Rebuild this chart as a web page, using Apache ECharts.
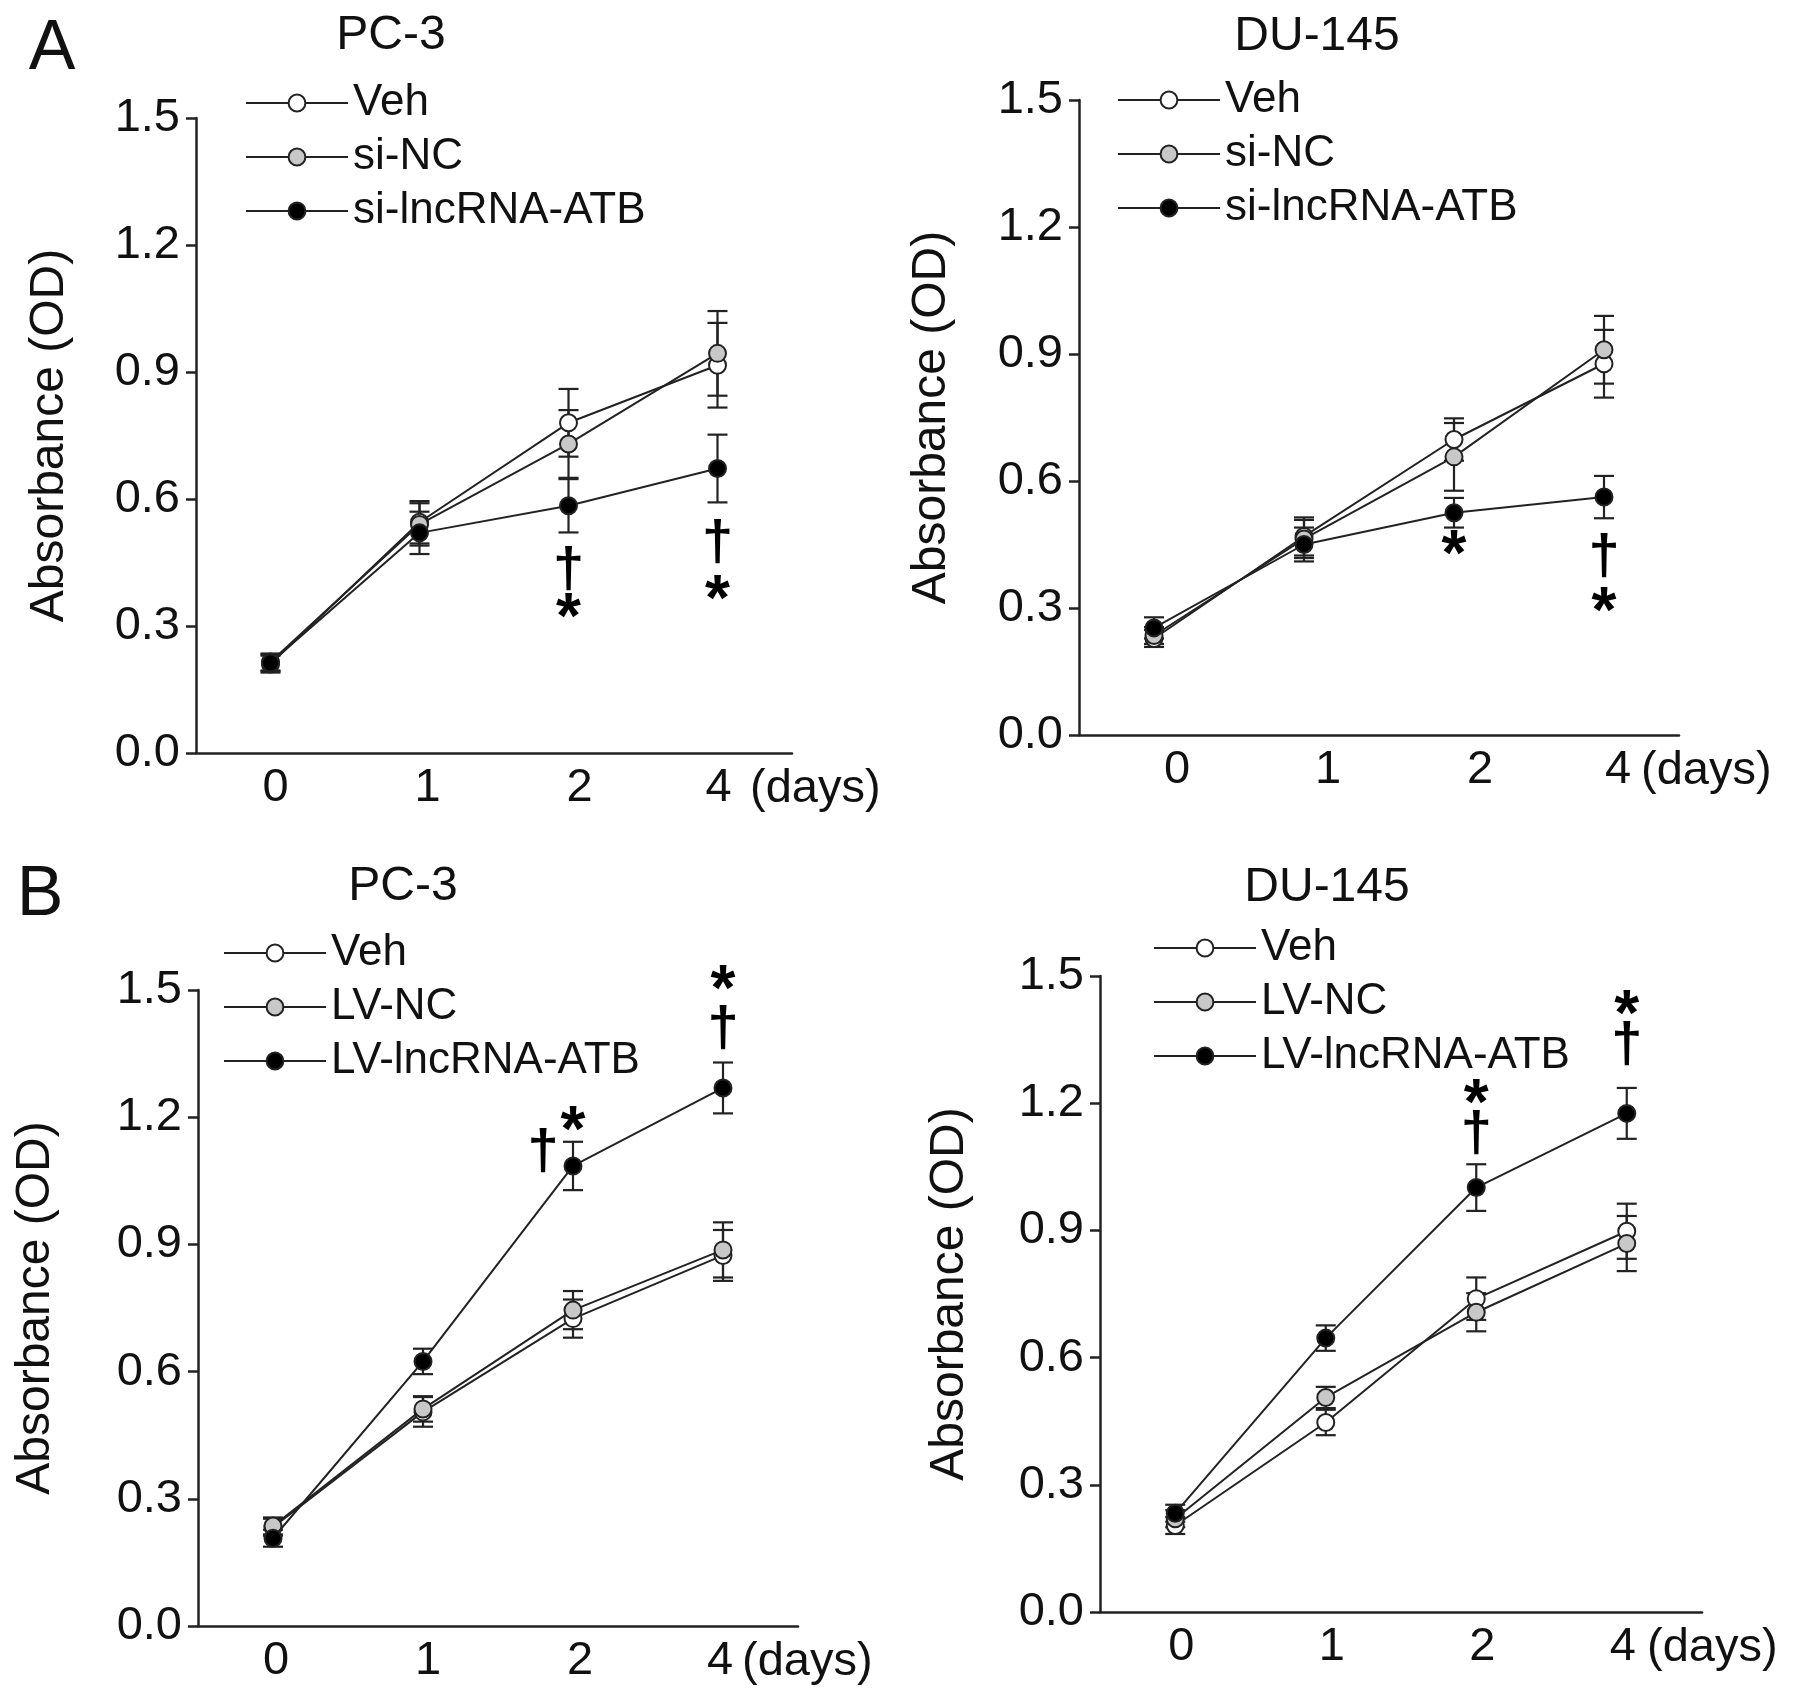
<!DOCTYPE html>
<html><head><meta charset="utf-8">
<script src="https://cdn.jsdelivr.net/npm/echarts@6/dist/echarts.min.js"></script>
<style>html,body{margin:0;padding:0;background:#fff}#c{width:1795px;height:1700px}</style>
</head><body><div id="c"></div>
<script>
// ---------- data ----------
const days = ['0', '1', '2', '4'];
const namesA = ['Veh', 'si-NC', 'si-lncRNA-ATB'];
const namesB = ['Veh', 'LV-NC', 'LV-lncRNA-ATB'];

// Panel A, PC-3
const aPc3Veh = [0.21, 0.545, 0.78, 0.916];
const aPc3VehErr = [0.02, 0.05, 0.08, 0.10];
const aPc3Nc = [0.215, 0.54, 0.73, 0.944];
const aPc3NcErr = [0.02, 0.05, 0.08, 0.10];
const aPc3Atb = [0.213, 0.52, 0.584, 0.672];
const aPc3AtbErr = [0.02, 0.05, 0.063, 0.08];
const aPc3Marks = [['2', 0.432, '†'], ['2', 0.345, '*'], ['4', 0.494, '†'], ['4', 0.387, '*']];

// Panel A, DU-145
const aDuVeh = [0.228, 0.469, 0.698, 0.877];
const aDuVehErr = [0.02, 0.045, 0.05, 0.08];
const aDuNc = [0.235, 0.463, 0.657, 0.91];
const aDuNcErr = [0.02, 0.045, 0.08, 0.08];
const aDuAtb = [0.253, 0.45, 0.525, 0.562];
const aDuAtbErr = [0.025, 0.04, 0.035, 0.05];
const aDuMarks = [['2', 0.451, '*'], ['4', 0.42, '†'], ['4', 0.316, '*']];

// Panel B, PC-3
const bPc3Veh = [0.233, 0.505, 0.725, 0.874];
const bPc3VehErr = [0.02, 0.035, 0.045, 0.06];
const bPc3Nc = [0.236, 0.512, 0.745, 0.887];
const bPc3NcErr = [0.02, 0.03, 0.045, 0.065];
const bPc3Atb = [0.207, 0.624, 1.085, 1.269];
const bPc3AtbErr = [0.02, 0.03, 0.057, 0.06];
const bPc3Marks = [['2', 1.116, '†'], ['2', 1.193, '*'], ['4', 1.406, '†'], ['4', 1.524, '*']];

// Panel B, DU-145
const bDuVeh = [0.204, 0.447, 0.739, 0.898];
const bDuVehErr = [0.02, 0.03, 0.05, 0.065];
const bDuNc = [0.22, 0.506, 0.707, 0.869];
const bDuNcErr = [0.02, 0.025, 0.045, 0.065];
const bDuAtb = [0.233, 0.646, 1.001, 1.176];
const bDuAtbErr = [0.02, 0.03, 0.055, 0.06];
const bDuMarks = [['2', 1.127, '†'], ['2', 1.224, '*'], ['4', 1.335, '†'], ['4', 1.432, '*']];

// ---------- layout / style ----------
const FONT = 'Liberation Sans, Arial, sans-serif';
const INK = '#111';
const AX = '#222';
const fills = ['#ffffff', '#c8c8c8', '#000000'];

const panels = [
  { grid: {left: 196, top: 118, width: 596, height: 635}, title: 'PC-3', tx: 386, ty: 31,
    legend: {left: 240, top: 76}, names: namesA, nameGap: 122, daysGap: -42, labShift: [5, 8, 11, 1],
    vals: [aPc3Veh, aPc3Nc, aPc3Atb], errs: [aPc3VehErr, aPc3NcErr, aPc3AtbErr], marks: aPc3Marks, daggerDx: {} },
  { grid: {left: 1079, top: 100, width: 600, height: 635}, title: 'DU-145', tx: 1312, ty: 32,
    legend: {left: 1112, top: 73}, names: namesA, nameGap: 123, daysGap: -38, labShift: [23, 24, 26, 14],
    vals: [aDuVeh, aDuNc, aDuAtb], errs: [aDuVehErr, aDuNcErr, aDuAtbErr], marks: aDuMarks, daggerDx: {} },
  { grid: {left: 198, top: 990, width: 600, height: 636}, title: 'PC-3', tx: 398, ty: 882,
    legend: {left: 218, top: 926}, names: namesB, nameGap: 138, daysGap: -56, labShift: [3, 5, 7, -3],
    vals: [bPc3Veh, bPc3Nc, bPc3Atb], errs: [bPc3VehErr, bPc3NcErr, bPc3AtbErr], marks: bPc3Marks, daggerDx: {'2': -30} },
  { grid: {left: 1100, top: 976, width: 602, height: 636}, title: 'DU-145', tx: 1322, ty: 883,
    legend: {left: 1148, top: 921}, names: namesB, nameGap: 126, daysGap: -55, labShift: [6, 6, 6, -4],
    vals: [bDuVeh, bDuNc, bDuAtb], errs: [bDuVehErr, bDuNcErr, bDuAtbErr], marks: bDuMarks, daggerDx: {} }
];

const option = {
  backgroundColor: '#fff',
  animation: false,
  textStyle: {fontFamily: FONT, color: INK},
  title: [
    {text: 'A', left: 47, top: 10, textAlign: 'center', textStyle: {fontSize: 70, fontWeight: 'normal', color: INK, fontFamily: FONT}},
    {text: 'B', left: 35, top: 856, textAlign: 'center', textStyle: {fontSize: 70, fontWeight: 'normal', color: INK, fontFamily: FONT}}
  ],
  grid: [], xAxis: [], yAxis: [], legend: [], series: []
};

panels.forEach((p, gi) => {
  option.grid.push(Object.assign({containLabel: false}, p.grid));
  option.title.push({text: p.title, left: p.tx, top: p.ty - 24, textAlign: 'center',
    textStyle: {fontSize: 48, fontWeight: 'normal', color: INK, fontFamily: FONT}});
  const rich = {};
  p.labShift.forEach((s, i) => {
    rich['s' + i] = {fontSize: 47, color: INK, fontFamily: FONT,
      padding: s >= 0 ? [0, 0, 0, 2 * s] : [0, -2 * s, 0, 0]};
  });
  option.xAxis.push({
    type: 'category', gridIndex: gi, data: days, boundaryGap: true,
    axisLine: {show: true, lineStyle: {color: AX, width: 2.5}},
    axisTick: {show: false},
    axisLabel: {fontSize: 47, color: INK, margin: 12, fontFamily: FONT, interval: 0, hideOverlap: false,
      formatter: (v, i) => '{s' + i + '|' + v + '}', rich: rich},
    splitLine: {show: false},
    name: '(days)', nameLocation: 'end', nameGap: p.daysGap,
    nameTextStyle: {fontSize: 47, color: INK, align: 'left', verticalAlign: 'top', lineHeight: 72, fontFamily: FONT}
  });
  option.yAxis.push({
    type: 'value', gridIndex: gi, min: 0, max: 1.5, interval: 0.3,
    axisLine: {show: true, lineStyle: {color: AX, width: 2.5}},
    axisTick: {show: true, length: 10, lineStyle: {color: AX, width: 2.5}},
    axisLabel: {fontSize: 47, color: INK, margin: 16, fontFamily: FONT, formatter: v => v.toFixed(1)},
    splitLine: {show: false},
    name: 'Absorbance (OD)', nameLocation: 'middle', nameGap: p.nameGap,
    nameTextStyle: {fontSize: 48, color: INK, fontFamily: FONT}
  });
  option.legend.push({
    orient: 'vertical', left: p.legend.left, top: p.legend.top, data: p.names,
    itemWidth: 102, itemHeight: 21, itemGap: 10, selectedMode: false,
    textStyle: {fontSize: 44, color: INK, lineHeight: 44, fontFamily: FONT}
  });
  // error bars (under the markers)
  p.vals.forEach((vals, si) => {
    const errs = p.errs[si];
    option.series.push({
      type: 'custom', xAxisIndex: gi, yAxisIndex: gi, z: 2, silent: true, clip: false,
      data: vals.map((v, i) => [i, v - errs[i], v + errs[i]]),
      encode: {x: 0, y: [1, 2]},
      renderItem: (params, api) => {
        const x = api.value(0);
        const lo = api.coord([x, api.value(1)]);
        const hi = api.coord([x, api.value(2)]);
        const w = 10, st = {stroke: AX, lineWidth: 2.2};
        return {type: 'group', children: [
          {type: 'line', shape: {x1: lo[0], y1: lo[1], x2: hi[0], y2: hi[1]}, style: st},
          {type: 'line', shape: {x1: lo[0] - w, y1: lo[1], x2: lo[0] + w, y2: lo[1]}, style: st},
          {type: 'line', shape: {x1: hi[0] - w, y1: hi[1], x2: hi[0] + w, y2: hi[1]}, style: st}
        ]};
      }
    });
  });
  // lines with markers
  p.vals.forEach((vals, si) => {
    option.series.push({
      type: 'line', name: p.names[si], xAxisIndex: gi, yAxisIndex: gi, z: 3 + si,
      data: vals, symbol: 'circle', symbolSize: 17, showAllSymbol: true,
      lineStyle: {color: AX, width: 2},
      itemStyle: {color: fills[si], borderColor: AX, borderWidth: 2},
      emphasis: {disabled: true}
    });
  });
  // significance marks (text placed at data coordinates)
  option.series.push({
    type: 'custom', xAxisIndex: gi, yAxisIndex: gi, z: 8, silent: true, clip: false,
    data: p.marks.map(m => [days.indexOf(m[0]), m[1], m[2]]),
    encode: {x: 0, y: 1},
    renderItem: (params, api) => {
      const i = params.dataIndex;
      const m = p.marks[i];
      const pt = api.coord([api.value(0), api.value(1)]);
      const isStar = m[2] === '*';
      const dx = isStar ? 0 : (p.daggerDx[m[0]] || 0);
      return {type: 'text', x: pt[0] + dx, y: pt[1] + (isStar ? 13 : 0),
        style: {text: m[2], fill: '#000', align: 'center', verticalAlign: 'middle',
          font: 'bold ' + (isStar ? 64 : 56) + 'px ' + FONT}};
    }
  });
});

const chart = echarts.init(document.getElementById('c'), null, {renderer: 'canvas'});
chart.setOption(option);
</script>
</body></html>
